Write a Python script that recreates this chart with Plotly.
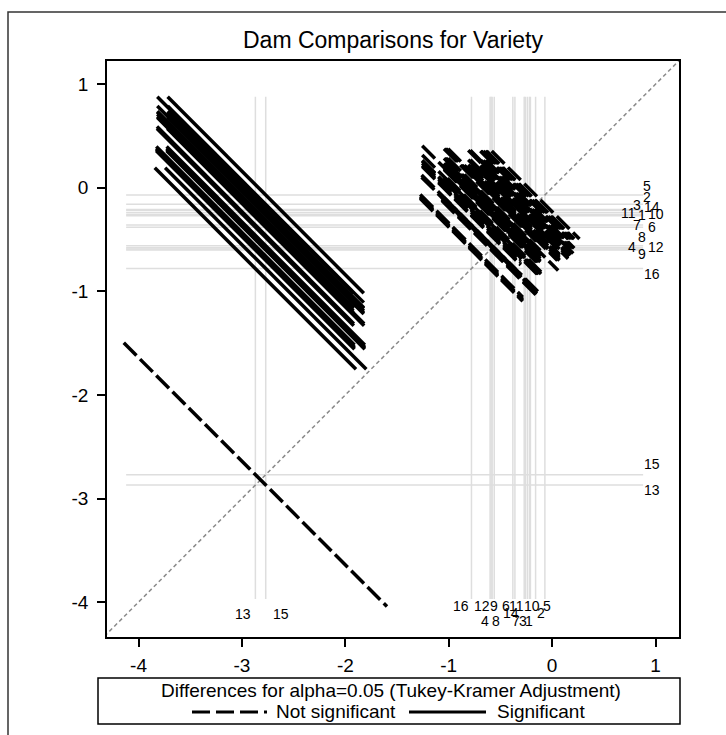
import math
import plotly.graph_objects as go

# ---------------- data ----------------
levels = [str(i) for i in range(1, 17)]
lsmeans = [-0.26, -0.16, -0.21, -0.58, -0.07, -0.38, -0.36, -0.56,
           -0.59, -0.27, -0.24, -0.60, -2.87, -0.22, -2.77, -0.78]
# per-level contribution to the (Tukey-Kramer) half-length of each diff segment
ci_component = [0.30, 0.30, 0.30, 0.33, 0.30, 0.31, 0.31, 0.33,
                0.33, 0.30, 0.30, 0.33, 0.90, 0.30, 0.90, 0.37]
x_ticks = [-4, -3, -2, -1, 0, 1]
x_ticklabels = ["-4", "-3", "-2", "-1", "0", "1"]
y_ticks = [-4, -3, -2, -1, 0, 1]
y_ticklabels = ["-4", "-3", "-2", "-1", "0", "1"]

title_text = "Dam Comparisons for Variety"
legend_title = "Differences for alpha=0.05 (Tukey-Kramer Adjustment)"
legend_ns = "Not significant"
legend_sig = "Significant"

# ---------------- label placement (layout only) ----------------
right_label_pos = {
    "5": (0.918, 0.017), "2": (0.918, -0.089), "3": (0.821, -0.166),
    "14": (0.966, -0.185), "11": (0.734, -0.243), "1": (0.869, -0.263),
    "10": (1.005, -0.253), "7": (0.821, -0.359), "6": (0.966, -0.378),
    "8": (0.869, -0.475), "4": (0.773, -0.571), "12": (1.005, -0.571),
    "9": (0.869, -0.639), "16": (0.966, -0.832), "15": (0.966, -2.666),
    "13": (0.966, -2.917),
}
bottom_label_pos = {
    "16": (-0.881, -4.037), "12": (-0.678, -4.037), "9": (-0.562, -4.037),
    "4": (-0.649, -4.182), "8": (-0.543, -4.182), "6": (-0.446, -4.037),
    "14": (-0.398, -4.104), "11": (-0.349, -4.037), "7": (-0.349, -4.182),
    "3": (-0.281, -4.182), "1": (-0.223, -4.182), "10": (-0.194, -4.037),
    "5": (-0.049, -4.037), "2": (-0.108, -4.110), "13": (-2.989, -4.114),
    "15": (-2.622, -4.114),
}

FONT = "Liberation Sans, Arial, Helvetica, sans-serif"
XR = [-4.305, 1.227]
YR = [-4.337, 1.224]

fig = go.Figure()

# reference lines at each LS-mean
ref_color = "#dedede"
for m in lsmeans:
    fig.add_trace(go.Scatter(x=[-4.12, 0.88], y=[m, m], mode="lines",
                             line=dict(color=ref_color, width=1.5),
                             hoverinfo="skip", showlegend=False))
    fig.add_trace(go.Scatter(x=[m, m], y=[-3.97, 0.88], mode="lines",
                             line=dict(color=ref_color, width=1.5),
                             hoverinfo="skip", showlegend=False))

# diagonal
fig.add_trace(go.Scatter(x=[-5, 2], y=[-5, 2], mode="lines",
                         line=dict(color="#8a8a8a", width=1.5, dash="4px,3px"),
                         hoverinfo="skip", showlegend=False))

# pairwise difference segments
n = len(levels)
for i in range(n):
    for j in range(i + 1, n):
        a, b = sorted([lsmeans[i], lsmeans[j]])
        w = math.sqrt(ci_component[i] ** 2 + ci_component[j] ** 2)
        significant = (b - a) >= 2 * w
        fig.add_trace(go.Scatter(
            x=[a - w, a + w], y=[b + w, b - w], mode="lines",
            line=dict(color="black", width=3.5,
                      dash="solid" if significant else "18px,5px"),
            hoverinfo="skip", showlegend=False))

annotations = []
for lab, (x, y) in right_label_pos.items():
    annotations.append(dict(x=x, y=y, xref="x", yref="y", text=lab,
                            showarrow=False, xanchor="center", yanchor="middle",
                            font=dict(family=FONT, size=14, color="black")))
for lab, (x, y) in bottom_label_pos.items():
    annotations.append(dict(x=x, y=y, xref="x", yref="y", text=lab,
                            showarrow=False, xanchor="center", yanchor="middle",
                            font=dict(family=FONT, size=14, color="black")))

# title
annotations.append(dict(x=0.5, y=1.036, xref="paper", yref="paper", text=title_text,
                        showarrow=False, xanchor="center", yanchor="middle",
                        font=dict(family=FONT, size=23, color="black")))

# legend texts (plot area: l=107, w=572, bottom=637, h=576)
def px(xp):
    return (xp - 107) / 572.0

def py(yp):
    return (637 - yp) / 576.0

annotations.append(dict(x=px(391), y=py(690), xref="paper", yref="paper", text=legend_title,
                        showarrow=False, xanchor="center", yanchor="middle",
                        font=dict(family=FONT, size=19, color="black")))
annotations.append(dict(x=px(274), y=py(711), xref="paper", yref="paper", text=legend_ns,
                        showarrow=False, xanchor="left", yanchor="middle",
                        font=dict(family=FONT, size=19, color="black")))
annotations.append(dict(x=px(495), y=py(711), xref="paper", yref="paper", text=legend_sig,
                        showarrow=False, xanchor="left", yanchor="middle",
                        font=dict(family=FONT, size=19, color="black")))

shapes = [
    # legend box
    dict(type="rect", xref="paper", yref="paper", x0=px(98), x1=px(680),
         y0=py(724), y1=py(678), line=dict(color="black", width=1.5)),
    # legend line samples
    dict(type="line", xref="paper", yref="paper", x0=px(192), x1=px(267),
         y0=py(712), y1=py(712), line=dict(color="black", width=3, dash="18px,6px")),
    dict(type="line", xref="paper", yref="paper", x0=px(409), x1=px(486),
         y0=py(712), y1=py(712), line=dict(color="black", width=3)),
    # outer frame
    dict(type="rect", xref="paper", yref="paper", x0=px(8), x1=px(760),
         y0=py(760), y1=py(12), line=dict(color="#333333", width=1.5)),
]

axis_common = dict(showgrid=False, zeroline=False, showline=True, mirror=True,
                   linecolor="black", linewidth=1.5, ticks="outside", ticklen=8,
                   tickwidth=1.5, tickcolor="black",
                   tickfont=dict(family=FONT, size=19, color="black"))

fig.update_layout(
    width=726, height=735,
    margin=dict(l=107, r=47, t=61, b=98, pad=0),
    paper_bgcolor="white", plot_bgcolor="white",
    xaxis=dict(range=XR, tickvals=x_ticks, ticktext=x_ticklabels,
               ticklabelstandoff=2, **axis_common),
    yaxis=dict(range=YR, tickvals=y_ticks, ticktext=y_ticklabels,
               ticklabelstandoff=5, **axis_common),
    annotations=annotations, shapes=shapes, showlegend=False,
)

fig.write_html("out.html")
